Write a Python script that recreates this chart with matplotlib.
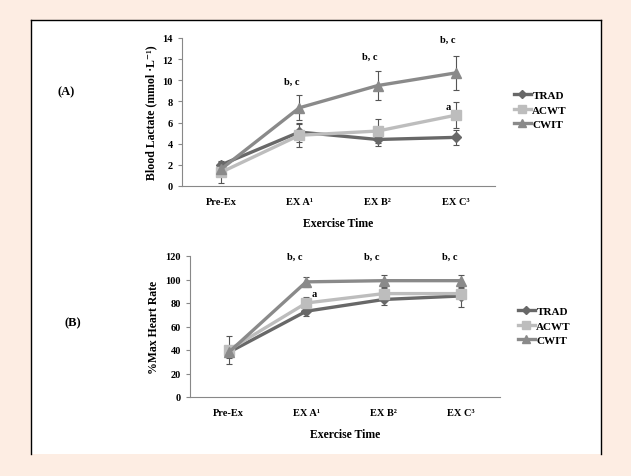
import matplotlib
matplotlib.use('Agg')
import matplotlib.pyplot as plt
from matplotlib.patches import Rectangle
from matplotlib.lines import Line2D

plt.rcParams['font.family'] = ['Liberation Serif', 'DejaVu Serif']
plt.rcParams['font.weight'] = 'bold'

# Categories shared by both panels
stages = ['Pre-Ex', 'EX A\u00b9', 'EX B\u00b2', 'EX C\u00b3']
groups = ['TRAD', 'ACWT', 'CWIT']

# Panel A: blood lactate (mmol/L), mean and SD
lac_trad = [2.0, 5.1, 4.4, 4.6]
lac_trad_sd = [0.4, 0.9, 0.6, 0.7]
lac_acwt = [1.3, 4.8, 5.2, 6.7]
lac_acwt_sd = [1.0, 1.1, 1.1, 1.2]
lac_cwit = [1.6, 7.4, 9.5, 10.7]
lac_cwit_sd = [0.6, 1.2, 1.4, 1.6]

# Panel B: % max heart rate, mean and SD
hr_trad = [38, 73, 83, 86]
hr_trad_sd = [4, 4, 5, 9]
hr_acwt = [40, 80, 88, 88]
hr_acwt_sd = [12, 5, 5, 5]
hr_cwit = [38, 98, 99, 99]
hr_cwit_sd = [5, 4, 5, 5]

colors = {'TRAD': '#686868', 'ACWT': '#bdbdbd', 'CWIT': '#8a8a8a'}
markers = {'TRAD': 'D', 'ACWT': 's', 'CWIT': '^'}
msize = {'TRAD': 5, 'ACWT': 6.5, 'CWIT': 7}

fig = plt.figure(figsize=(6.31, 4.77), dpi=100)
fig.patch.set_facecolor('#fdede3')

# white panel with border on top, left and right
fig.patches.append(Rectangle((31 / 631, 1 - 455 / 477), 570 / 631, 434 / 477,
                             transform=fig.transFigure, facecolor='white',
                             edgecolor='none', zorder=-5))
for xs, ys in [([31, 31], [455, 21]), ([31, 601], [21, 21]), ([601, 601], [21, 455])]:
    fig.lines.append(Line2D([x / 631 for x in xs], [1 - y / 477 for y in ys],
                            transform=fig.transFigure, color='black', lw=1.0,
                            zorder=-4))


def draw_panel(ax, series, ylim, yticks, ylabel):
    x = range(len(stages))
    handles = []
    for name, (vals, sd) in zip(groups, series):
        ax.errorbar(x, vals, yerr=sd, color=colors[name], lw=2.4,
                    marker=markers[name], markersize=msize[name],
                    ecolor='#555555', elinewidth=0.8, capsize=2.5,
                    capthick=0.8)
        handles.append(Line2D([], [], color=colors[name], lw=2.4,
                              marker=markers[name], markersize=msize[name] - 1,
                              label=name))
    ax.set_facecolor('none')
    ax.set_xlim(-0.5, len(stages) - 0.5)
    ax.set_ylim(*ylim)
    ax.set_yticks(yticks)
    ax.set_xticks(list(x))
    ax.set_xticklabels(stages)
    ax.tick_params(axis='x', length=0, labelsize=7.5, pad=8)
    ax.tick_params(axis='y', length=3, labelsize=7.5, color='#888888')
    for s in ['top', 'right']:
        ax.spines[s].set_visible(False)
    ax.spines['left'].set_color('#888888')
    ax.spines['bottom'].set_color('#888888')
    ax.set_ylabel(ylabel, fontsize=8.5, fontweight='bold')
    ax.set_xlabel('Exercise Time', fontsize=8.5, fontweight='bold', labelpad=8)
    return handles


axA = fig.add_axes([182 / 631, 1 - 187 / 477, 313 / 631, 148 / 477])
hA = draw_panel(axA, [(lac_trad, lac_trad_sd), (lac_acwt, lac_acwt_sd),
                      (lac_cwit, lac_cwit_sd)],
                (0, 14), range(0, 15, 2), 'Blood Lactate (mmol \u00b7L\u207b\u00b9)')
for xi, yi, t in [(0.9, 9.9, 'b, c'), (1.9, 12.3, 'b, c'), (2.9, 13.9, 'b, c'),
                  (2.9, 7.5, 'a')]:
    axA.text(xi, yi, t, fontsize=7.5, fontweight='bold', ha='center', va='center')
axA.legend(handles=hA, loc='upper left', bbox_to_anchor=(514 / 631, 1 - 91 / 477),
           bbox_transform=fig.transFigure, frameon=False, fontsize=8,
           handlelength=1.5, handletextpad=0.15, labelspacing=0.45,
           borderaxespad=0, borderpad=0)

axB = fig.add_axes([190 / 631, 1 - 398 / 477, 310 / 631, 141 / 477])
hB = draw_panel(axB, [(hr_trad, hr_trad_sd), (hr_acwt, hr_acwt_sd),
                      (hr_cwit, hr_cwit_sd)],
                (0, 120), range(0, 121, 20), '%Max Heart Rate')
for xi, yi, t in [(0.85, 120, 'b, c'), (1.85, 120, 'b, c'), (2.85, 120, 'b, c'),
                  (1.1, 88, 'a')]:
    axB.text(xi, yi, t, fontsize=7.5, fontweight='bold', ha='center', va='center')
axB.legend(handles=hB, loc='upper left', bbox_to_anchor=(518 / 631, 1 - 307 / 477),
           bbox_transform=fig.transFigure, frameon=False, fontsize=8,
           handlelength=1.5, handletextpad=0.15, labelspacing=0.45,
           borderaxespad=0, borderpad=0)

fig.text(66 / 631, 1 - 92 / 477, '(A)', fontsize=9, fontweight='bold',
         ha='center', va='center')
fig.text(73 / 631, 1 - 323 / 477, '(B)', fontsize=9, fontweight='bold',
         ha='center', va='center')

fig.savefig('out.png', dpi=100, facecolor=fig.get_facecolor())
